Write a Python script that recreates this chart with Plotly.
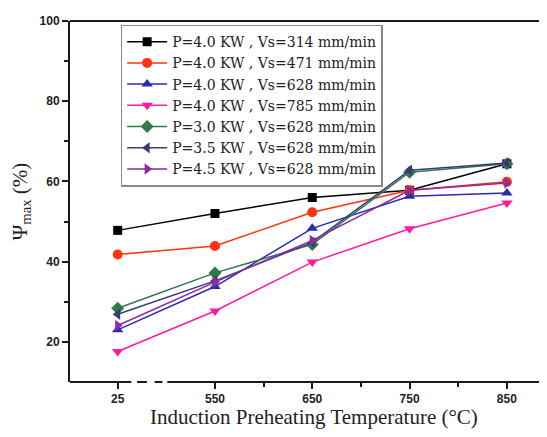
import plotly.graph_objects as go

temps = ["25", "550", "650", "750", "850"]
series_names = [
    "P=4.0 KW , Vs=314 mm/min",
    "P=4.0 KW , Vs=471 mm/min",
    "P=4.0 KW , Vs=628 mm/min",
    "P=4.0 KW , Vs=785 mm/min",
    "P=3.0 KW , Vs=628 mm/min",
    "P=3.5 KW , Vs=628 mm/min",
    "P=4.5 KW , Vs=628 mm/min",
]
s_4_314 = [47.8, 52.0, 56.0, 57.8, 64.4]
s_4_471 = [41.8, 43.9, 52.3, 57.8, 59.9]
s_4_628 = [23.0, 33.8, 48.3, 56.3, 57.1]
s_4_785 = [17.6, 27.7, 39.9, 48.2, 54.6]
s_3_628 = [28.4, 37.2, 44.3, 62.3, 64.4]
s_35_628 = [26.9, 35.2, 44.8, 62.8, 64.6]
s_45_628 = [24.1, 34.9, 45.3, 57.8, 59.6]
all_series = [s_4_314, s_4_471, s_4_628, s_4_785, s_3_628, s_35_628, s_45_628]
x_title = "Induction Preheating Temperature (°C)"

colors = ["#000000", "#FF3311", "#2B2BB0", "#FF1AA0", "#2E7A4A", "#3A3A78", "#8E2A9E"]
symbols = ["square", "circle", "triangle-up", "triangle-down", "diamond", "triangle-left", "triangle-right"]
sizes = [9, 10, 10, 10, 10, 10, 10]

xpos = list(range(len(temps)))
fig = go.Figure()
for name, ys, c, sym, sz in zip(series_names, all_series, colors, symbols, sizes):
    fig.add_trace(go.Scatter(
        x=xpos, y=ys, name=name, mode="lines+markers",
        line=dict(color=c, width=1.5),
        marker=dict(symbol=sym, size=sz, color=c),
    ))

xmin, xmax = -0.49, 4.33
axis_col = "#1a1a1a"
shapes = []
# broken bottom axis
for a, b in [(xmin, 0.14), (0.2, 0.3), (0.38, 0.46), (0.51, xmax)]:
    shapes.append(dict(type="line", xref="x", yref="paper", x0=a, x1=b, y0=0, y1=0,
                       line=dict(color=axis_col, width=2)))
# top frame line
shapes.append(dict(type="line", xref="paper", yref="paper", x0=0, x1=1, y0=1, y1=1,
                   line=dict(color=axis_col, width=2)))

serif = "DejaVu Serif, Liberation Serif, serif"
fig.update_layout(
    width=531, height=421,
    margin=dict(l=62, r=0, t=13, b=47, autoexpand=False),
    paper_bgcolor="white", plot_bgcolor="white",
    shapes=shapes,
    annotations=[dict(text=x_title, xref="paper", yref="paper", x=0.52, y=0,
                      xanchor="center", yanchor="middle", yshift=-35, showarrow=False,
                      font=dict(family="Liberation Serif, Times New Roman, serif", size=21, color="#222222"))],
    showlegend=True,
    legend=dict(
        x=0.108, y=0.99, xanchor="left", yanchor="top",
        bgcolor="white", bordercolor="#888888", borderwidth=1.5,
        font=dict(family=serif, size=14, color="#222222"),
        tracegroupgap=0, itemwidth=40,
    ),
    xaxis=dict(
        automargin=False,
        range=[xmin, xmax], tickmode="array", tickvals=xpos, ticktext=temps,
        showline=False, showgrid=False, zeroline=False,
        ticks="outside", ticklen=6, tickwidth=2, tickcolor=axis_col,
        minor=dict(tickmode="array", tickvals=[1.5, 2.5, 3.5], ticks="outside",
                   ticklen=4, tickwidth=2, tickcolor=axis_col),
        tickfont=dict(family="Liberation Sans, Arial, sans-serif", size=12, color="#222222", weight="bold"),
    ),
    yaxis=dict(
        automargin=False,
        range=[10, 100], tickvals=[20, 40, 60, 80, 100],
        showline=True, linecolor=axis_col, linewidth=2,
        showgrid=False, zeroline=False,
        ticks="outside", ticklen=6, tickwidth=2, tickcolor=axis_col,
        minor=dict(tickvals=[30, 50, 70, 90], ticks="outside", ticklen=4,
                   tickwidth=2, tickcolor=axis_col),
        tickfont=dict(family="Liberation Sans, Arial, sans-serif", size=12, color="#222222", weight="bold"),
        title=dict(text="Ψ<sub>max</sub> (%)",
                   font=dict(family="Liberation Serif, Times New Roman, serif", size=21, color="#222222")),
    ),
)

fig.write_html("out.html")
